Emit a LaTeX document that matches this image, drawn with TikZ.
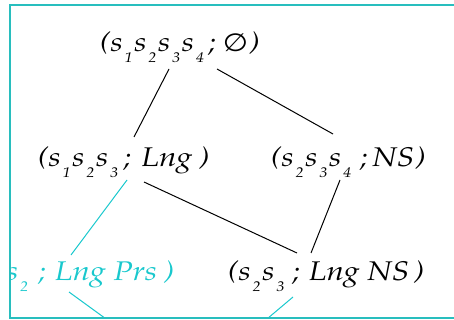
\documentclass[tikz,border=0pt]{standalone}
\usepackage[T1]{fontenc}
\usepackage{fontspec}
\newfontfamily\dvfont{DejaVu Sans}
\definecolor{framecyan}{RGB}{40,190,190}
\definecolor{textcyan}{RGB}{25,200,205}
% Palatino italic, taken straight from the Type 1 fonts
\newcommand{\palit}{\fontencoding{T1}\fontfamily{ppl}\fontshape{it}\selectfont}
% s with a low, spaced index
\newcommand{\sv}[1]{s\kern1.5pt\raisebox{-11pt}{\fontsize{14}{14}\selectfont #1}\kern1.5pt}
% label a little wider than the font
\newcommand{\lab}[1]{\scalebox{1.16}[1]{#1}}
\tikzset{
  lat/.style={anchor=base west, inner sep=0pt, font=\fontsize{27}{31}\palit},
  edge/.style={line width=1pt, black},
  cyanedge/.style={line width=1pt, textcyan}
}
\begin{document}
\begin{tikzpicture}[x=1pt, y=-1pt]
% Set the canvas to the reference size
\useasboundingbox (0,0) rectangle (454,320);

\begin{scope}
\clip (10,5) rectangle (454,318);

% Nodes of the lattice
\node[lat] (top) at (100,52) {\lab{(\sv1\sv2\sv3\sv4\kern2pt;\kern6pt{\dvfont\fontsize{25}{28}\selectfont ∅}\kern1pt)}};
\node[lat] (lng) at (38,167) {\lab{(\sv1\sv2\sv3\kern3pt;\kern9pt Lng\kern6pt)}};
\node[lat] (ns) at (271,167) {\lab{(\sv2\sv3\sv4\kern6pt;\kern4pt NS\kern1pt)}};
\node[lat, text=textcyan] (prs) at (6,280) {\lab{\sv2\kern7pt;\kern8pt Lng Prs\kern6pt)}};
\node[lat] (lngns) at (228,280) {\lab{(\sv2\sv3\kern5pt;\kern8pt Lng NS\kern4pt)}};

% Free ends below the frame
\coordinate (prsout) at (113,324);
\coordinate (lngnsout) at (261,324);

% Black connectors
\draw[edge] ([shift={(69,17)}]top.base west) -- ([shift={(96,-30)}]lng.base west);
\draw[edge] ([shift={(117,17)}]top.base west) -- ([shift={(62,-33)}]ns.base west);
\draw[edge] ([shift={(106,15)}]lng.base west) -- ([shift={(69,-27)}]lngns.base west);
\draw[edge] ([shift={(69,13)}]ns.base west) -- ([shift={(83,-27)}]lngns.base west);

% Cyan connectors
\draw[cyanedge] ([shift={(89,13)}]lng.base west) -- ([shift={(65,-25)}]prs.base west);
\draw[cyanedge] ([shift={(63,12)}]prs.base west) -- (prsout);
\draw[cyanedge] ([shift={(65,17)}]lngns.base west) -- (lngnsout);
\end{scope}

% Frame
\draw[framecyan, line width=1.5pt] (480,318) -- (10,318) -- (10,5) -- (480,5);
\end{tikzpicture}
\end{document}
